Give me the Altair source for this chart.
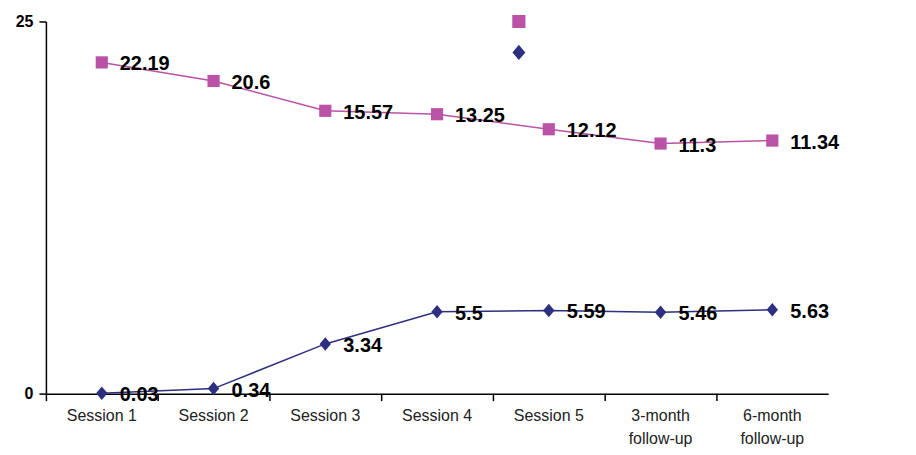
import altair as alt
import pandas as pd

categories = ["Session 1", "Session 2", "Session 3", "Session 4", "Session 5",
              "3-month follow-up", "6-month follow-up"]
series_names = ["Mean Number of cigarettes smoked per day",
                "Mean Number of nicotine gums used per day"]
# positions as drawn in the picture
cig_positions = [22.25, 21.0, 19.0, 18.77, 17.76, 16.8, 17.0]
gum_positions = [0.03, 0.34, 3.34, 5.5, 5.59, 5.46, 5.63]
# data labels as printed
cig_labels = ["22.19", "20.6", "15.57", "13.25", "12.12", "11.3", "11.34"]
gum_labels = ["0.03", "0.34", "3.34", "5.5", "5.59", "5.46", "5.63"]
y_ticks = [0, 25]

PINK = "#BA52A6"
NAVY = "#2D2F80"
FONT = "Liberation Sans"

rows = []
for c, v, t in zip(categories, cig_positions, cig_labels):
    rows.append({"session": c, "series": series_names[0], "value": v, "label": t})
for c, v, t in zip(categories, gum_positions, gum_labels):
    rows.append({"session": c, "series": series_names[1], "value": v, "label": t})
df = pd.DataFrame(rows)

# marker shapes (same proportions in plot and legend)
sq_path = "M-0.45,-0.45H0.45V0.45H-0.45Z"
dm_path = "M0,-0.5L0.42,0L0,0.5L-0.42,0Z"
line_symbol = "M-2,0H2"

x_enc = alt.X(
    "session:N", sort=categories,
    scale=alt.Scale(type="band", paddingInner=0, paddingOuter=0),
    axis=alt.Axis(
        title=None, labelAngle=0, grid=False, ticks=True, bandPosition=0,
        labelExpr="indexof(datum.value, 'follow') > 0 ? split(datum.value, ' ') : datum.value",
        labelLineHeight=23,
        labelFont=FONT, labelFontSize=16, labelColor="#222222",
        labelPadding=7, tickSize=7,
        domainColor="#000000", tickColor="#000000", domainWidth=1.5, tickWidth=1.5,
    ),
)
y_enc = alt.Y(
    "value:Q",
    scale=alt.Scale(domain=[0, 25], nice=False),
    axis=alt.Axis(
        title=None, values=y_ticks, grid=False, labelFont=FONT, labelFontSize=16,
        labelFontWeight="bold", labelColor="#000000", tickSize=7, labelPadding=6,
        domainColor="#000000", tickColor="#000000", domainWidth=1.5, tickWidth=1.5,
    ),
)


def make_legend(**kw):
    opts = dict(
        title=None, orient="none", legendX=460, legendY=-13,
        symbolSize=676, labelOffset=28, rowPadding=8, labelLimit=500,
        labelFont=FONT, labelFontSize=16, labelColor="#222222",
        symbolOpacity=1,
    )
    opts.update(kw)
    return alt.Legend(**opts)


base = alt.Chart(df)

lines = base.mark_line(strokeWidth=1.5).encode(
    x=x_enc, y=y_enc,
    color=alt.Color("series:N", scale=alt.Scale(domain=series_names, range=[PINK, NAVY]),
                    legend=make_legend(title=" ", titleFontSize=1, titlePadding=0,
                                       legendY=-14, labelOpacity=0,
                                       symbolType=line_symbol, symbolStrokeWidth=1.5)),
)

pts = base.mark_point(filled=True, opacity=1, size=735).encode(
    x=x_enc, y=y_enc,
    fill=alt.Fill("series:N", scale=alt.Scale(domain=series_names, range=[PINK, NAVY]),
                  legend=make_legend()),
    shape=alt.Shape("series:N", scale=alt.Scale(domain=series_names, range=[sq_path, dm_path]),
                    legend=make_legend()),
)

texts = base.mark_text(
    align="left", baseline="middle", dx=18, dy=2,
    font=FONT, fontSize=20, fontWeight="bold", color="#000000",
).encode(x=x_enc, y=y_enc, text="label:N")

chart = alt.layer(lines, pts, texts).properties(
    width=784, height=373,
    padding={"left": 38, "top": 13, "right": 80, "bottom": 60},
    autosize=alt.AutoSizeParams(type="none"),
    background="#ffffff",
).configure_view(stroke=None)

chart.save("out.html", embed_options={"renderer": "svg", "actions": False})
